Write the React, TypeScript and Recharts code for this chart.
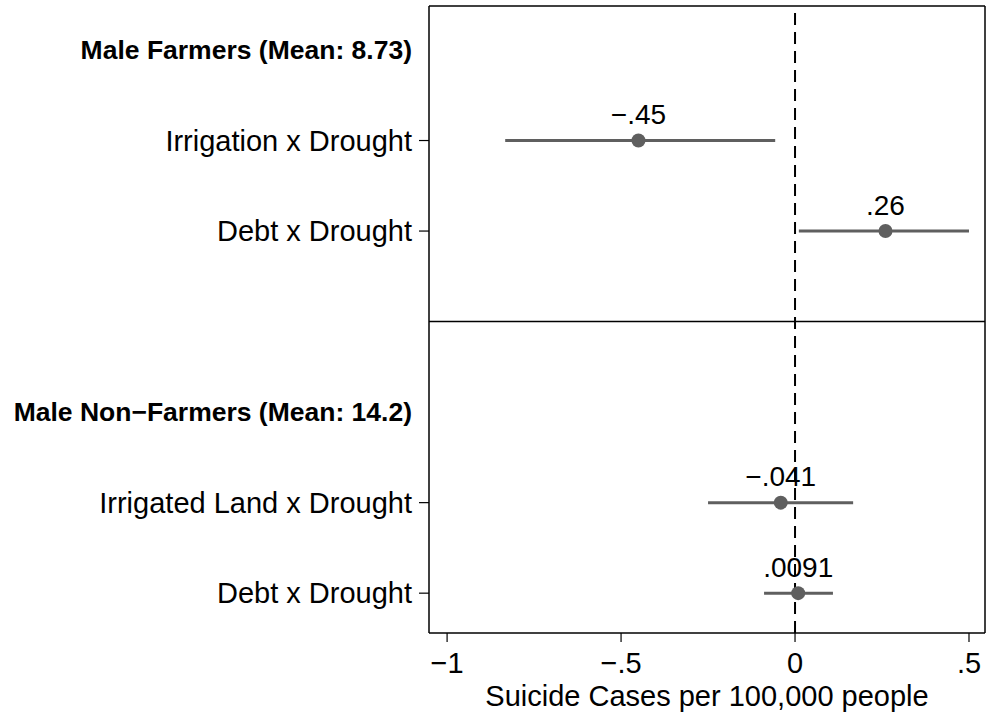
import {
  ScatterChart,
  Scatter,
  XAxis,
  YAxis,
  ReferenceLine,
  LabelList,
} from 'recharts';

// y positions 0..6, row 3 is the panel separator
const rowLabels = [
  'Male Farmers (Mean: 8.73)',
  'Irrigation x Drought',
  'Debt x Drought',
  '',
  'Male Non\u2212Farmers (Mean: 14.2)',
  'Irrigated Land x Drought',
  'Debt x Drought',
];
const headerRows = [0, 4];
const coefRows = [1, 2, 5, 6];
const estimates = [-0.45, 0.26, -0.041, 0.0091];
const ciLow = [-0.833, 0.011, -0.25, -0.089];
const ciHigh = [-0.057, 0.5, 0.167, 0.109];
const xTicks = [-1, -0.5, 0, 0.5];

const X_DOMAIN: [number, number] = [-1.052, 0.546];
const Y_DOMAIN: [number, number] = [-0.486, 6.44];

const data = coefRows.map((row, i) => ({
  y: row,
  b: estimates[i],
  lo: ciLow[i],
  hi: ciHigh[i],
}));

const FONT = '"Liberation Sans", Arial, Helvetica, sans-serif';
const GREY = '#5f5f5f';

// stata style: -.45, .26, .0091
const fmt = (v: number) => {
  const s = String(Math.abs(v)).replace(/^0(?=\.)/, '');
  return (v < 0 ? '\u2212' : '') + s;
};

const YTick = (props: any) => {
  const { x, y, payload } = props;
  const row = payload.value;
  const label = rowLabels[row];
  if (headerRows.includes(row)) {
    return (
      <text x={x - 17} y={y} dy={9} textAnchor="end" fontFamily={FONT} fontSize={26.5} fontWeight="bold" fill="#000">
        {label}
      </text>
    );
  }
  return (
    <g>
      <line x1={x - 10} x2={x} y1={y} y2={y} stroke="#000" strokeWidth={1.2} />
      <text x={x - 17} y={y} dy={10} textAnchor="end" fontFamily={FONT} fontSize={29} fill="#000">
        {label}
      </text>
    </g>
  );
};

const XTick = (props: any) => {
  const { x, y, payload } = props;
  return (
    <g>
      <line x1={x} x2={x} y1={y} y2={y + 9} stroke="#000" strokeWidth={1.2} />
      <text x={x} y={y + 40} textAnchor="middle" fontFamily={FONT} fontSize={29} fill="#000">
        {fmt(payload.value)}
      </text>
    </g>
  );
};

export default function App() {
  return (
    <div style={{ position: 'absolute', left: 0, top: 0, width: 987, height: 715, background: '#fff' }}>
      <ScatterChart width={987} height={715} margin={{ top: 6, right: 2, bottom: 0, left: 0 }}>
        <XAxis
          type="number"
          dataKey="b"
          domain={X_DOMAIN}
          ticks={xTicks}
          allowDataOverflow
          height={82}
          tickLine={false}
          tickSize={0}
          tickMargin={0}
          tick={<XTick />}
          axisLine={{ stroke: '#000', strokeWidth: 1.5 }}
          label={{
            value: 'Suicide Cases per 100,000 people',
            position: 'insideBottom',
            offset: 9,
            fontFamily: FONT,
            fontSize: 29,
            fill: '#000',
          }}
        />
        <YAxis
          type="number"
          dataKey="y"
          reversed
          domain={Y_DOMAIN}
          ticks={[0, 1, 2, 4, 5, 6]}
          allowDataOverflow
          width={429}
          tickLine={false}
          tickSize={0}
          tickMargin={0}
          tick={<YTick />}
          axisLine={{ stroke: '#000', strokeWidth: 1.5 }}
        />
        {/* top and right edges of the frame */}
        <ReferenceLine y={Y_DOMAIN[0]} stroke="#000" strokeWidth={1.5} ifOverflow="visible" />
        <ReferenceLine x={X_DOMAIN[1]} stroke="#000" strokeWidth={1.5} ifOverflow="visible" />
        <ReferenceLine y={3} stroke="#000" strokeWidth={1.5} />
        <ReferenceLine x={0} stroke="#000" strokeWidth={2} strokeDasharray="12 7" />
        {data.map((d) => (
          <ReferenceLine
            key={d.y}
            segment={[
              { x: d.lo, y: d.y },
              { x: d.hi, y: d.y },
            ]}
            stroke={GREY}
            strokeWidth={3}
          />
        ))}
        <Scatter
          data={data}
          fill={GREY}
          isAnimationActive={false}
          shape={(p: any) => <circle cx={p.cx} cy={p.cy} r={7} fill={GREY} />}
        >
          <LabelList
            dataKey="b"
            position="top"
            offset={12}
            formatter={(v: any) => fmt(Number(v))}
            style={{ fontFamily: FONT, fontSize: 28, fill: '#000' }}
          />
        </Scatter>
      </ScatterChart>
    </div>
  );
}
